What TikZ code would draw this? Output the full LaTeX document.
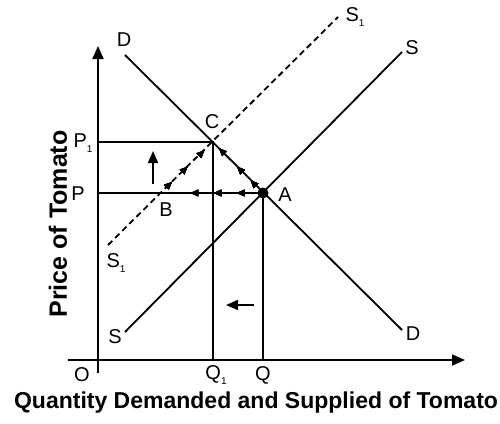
\documentclass[tikz,border=0pt]{standalone}
\usepackage{fontspec}
\setmainfont{Liberation Sans}
\usetikzlibrary{arrows.meta,decorations.markings}
\begin{document}
\begin{tikzpicture}[x=1pt,y=-1pt,
  curve/.style={line width=1.8pt},
  axis/.style={line width=1.8pt,-{Triangle[length=13pt,width=11pt]}},
  lbl/.style={font=\fontsize{20}{20}\selectfont, inner sep=0pt},
  tip/.style={-{Triangle[length=12pt,width=10pt]}, line width=1.8pt},
  mk/.style={postaction={decorate},decoration={markings,
     mark=at position #1 with {\arrow{Triangle[length=8pt,width=7pt]}}}},
]
\useasboundingbox (0,0) rectangle (500,423);
% points
\coordinate (O) at (98,360);
\coordinate (ybot) at (98,373);
\coordinate (ytop) at (98,46);
\coordinate (xl) at (68,360);
\coordinate (xr) at (465,360);
\coordinate (A) at (263,193);
\coordinate (C) at (213,142);
\coordinate (B) at (160.5,193);
\coordinate (P) at (98,193);
\coordinate (P1) at (98,142);
\coordinate (Q) at (263,360);
\coordinate (Q1) at (213,360);
\coordinate (Dt) at (125,55);
\coordinate (Db) at (402,330);
\coordinate (St) at (402,52);
\coordinate (Sb) at (125,332);
\coordinate (S1t) at (338,17);
\coordinate (S1b) at (108,245);
% axes
\draw[axis] (ybot) -- (ytop);
\draw[axis] (xl) -- (xr);
% curves
\draw[curve] (Dt) -- (Db);
\draw[curve] (Sb) -- (St);
\draw[curve, dash pattern=on 6pt off 4pt] (S1b) -- (S1t);
% guide lines
\draw[curve] (P1) -- (C) -- (Q1);
\draw[curve] (P) -- (A) -- (Q);
% movement arrows
\path[mk=0.16,mk=0.30,mk=0.44] (A) -- (P);
\path[mk=0.25,mk=0.52,mk=0.88] (A) -- (C);
\path[mk=0.22,mk=0.52,mk=0.84] (B) -- (C);
\fill (A) circle (5.5pt);
\coordinate (ua1) at (153,184);
\coordinate (ua2) at (153,151);
\draw[tip] (ua1) -- (ua2);
\coordinate (la1) at (254,305);
\coordinate (la2) at (226,305);
\draw[tip] (la1) -- (la2);
% labels
\node[lbl] (lDt) at (124,40) {D};
\node[lbl] (lDb) at (413,334) {D};
\node[lbl] (lSt) at (412,48) {S};
\node[lbl] (lSb) at (115,337) {S};
\node[lbl] (lS1t) at (355,17) {S\raisebox{-5pt}{\fontsize{10}{10}\selectfont 1}};
\node[lbl] (lS1b) at (116,263) {S\raisebox{-5pt}{\fontsize{10}{10}\selectfont 1}};
\node[lbl] (lC) at (212,122) {C};
\node[lbl] (lA) at (285,195) {A};
\node[lbl] (lB) at (166,210) {B};
\node[lbl] (lP1) at (83,143) {P\raisebox{-5pt}{\fontsize{10}{10}\selectfont 1}};
\node[lbl] (lP) at (78,194) {P};
\node[lbl] (lO) at (82,375) {O};
\node[lbl] (lQ1) at (216,375) {Q\raisebox{-5pt}{\fontsize{10}{10}\selectfont 1}};
\node[lbl] (lQ) at (263,375) {Q};
\node[font=\bfseries\fontsize{23}{23}\selectfont, inner sep=0pt] (xlab) at (256,403) {Quantity Demanded and Supplied of Tomato};
\node[font=\bfseries\fontsize{25}{25}\selectfont, inner sep=0pt, rotate=90] (ylab) at (58,224) {Price of Tomato};
\end{tikzpicture}
\end{document}
